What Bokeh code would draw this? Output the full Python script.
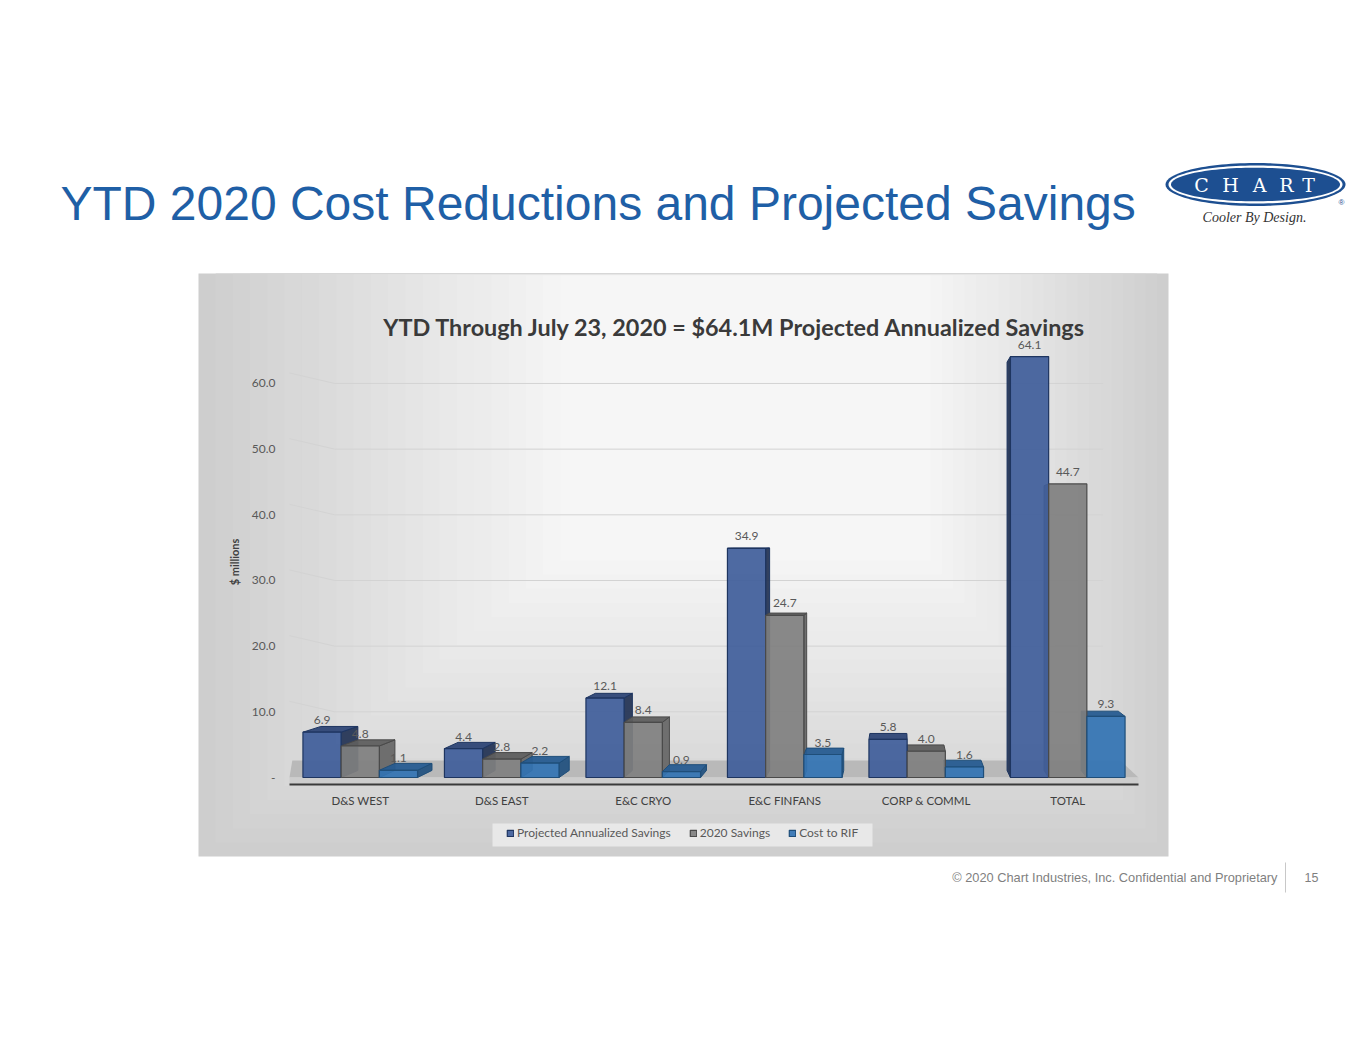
import numpy as np
from bokeh.plotting import figure
from bokeh.models import (Range1d, FixedTicker, PrintfTickFormatter, Label, LinearAxis,
                          BoxAnnotation, PolyAnnotation, Legend, LegendItem, ColumnDataSource)
from bokeh.core.properties import value
from bokeh.embed import file_html
from bokeh.resources import INLINE

# ---------------- data ----------------
categories = ["D&S WEST", "D&S EAST", "E&C CRYO", "E&C FINFANS", "CORP & COMML", "TOTAL"]
projected = [6.9, 4.4, 12.1, 34.9, 5.8, 64.1]
savings_2020 = [4.8, 2.8, 8.4, 24.7, 4.0, 44.7]
cost_to_rif = [1.1, 2.2, 0.9, 3.5, 1.6, 9.3]
series_names = ["Projected Annualized Savings", "2020 Savings", "Cost to RIF"]
y_ticks = [0, 10, 20, 30, 40, 50, 60]

slide_title = "YTD 2020 Cost Reductions and Projected Savings"
chart_title = "YTD Through July 23, 2020 = $64.1M Projected Annualized Savings"
footer_text = "\u00a9 2020 Chart Industries, Inc. Confidential and Proprietary"
page_number = "15"

# ---------------- page geometry ----------------
W, H = 1349, 1039
X0, PX = 289.0, 141.5      # page x of category axis start, px per category
Y0, PY = 777.0, 6.567      # page y of value 0, px per unit

p = figure(width=W, height=H,
           x_range=Range1d(-X0 / PX, (W - X0) / PX),
           y_range=Range1d((Y0 - H) / PY, Y0 / PY),
           x_axis_type=None, y_axis_type=None,
           output_backend="svg", toolbar_location=None,
           min_border=0, min_border_left=0, min_border_right=0,
           min_border_top=0, min_border_bottom=0)
p.title.visible = False
p.border_fill_color = "white"
p.background_fill_color = "white"
p.outline_line_color = None
p.xgrid.visible = False
p.ygrid.visible = False


def sx(x):
    return x


def sy(y):
    return H - y


def box(l, r, t, b, color, level="image"):
    p.add_layout(BoxAnnotation(left=sx(l), right=sx(r), top=sy(t), bottom=sy(b),
                               left_units="screen", right_units="screen",
                               top_units="screen", bottom_units="screen",
                               fill_color=color, fill_alpha=1.0, line_color=None, level=level))


def add_label(x, y, text, **kw):
    p.add_layout(Label(x=sx(x), y=sy(y), x_units="screen", y_units="screen", text=text, **kw))


# ---------------- chart picture background (soft gradient) ----------------
outer = (198, 1168, 273, 856)
inner = (560, 930, 275, 560)
N = 22
for k in range(N):
    t = k / (N - 1)
    l = outer[0] + t * (inner[0] - outer[0])
    r = outer[1] + t * (inner[1] - outer[1])
    tp = outer[2] + t * (inner[2] - outer[2])
    bt = outer[3] + t * (inner[3] - outer[3])
    g = int(round(0xCE + t * (0xF6 - 0xCE)))
    box(l, r, tp, bt, "#%02x%02x%02x" % (g, g, g))

# legend background strip
box(492, 872, 823, 846, "#E8E8E8")

# ---------------- back-wall grid lines ----------------
grid_xs = [[0.0, 0.32, 5.75] for v in y_ticks if v > 0]
grid_ys = [[v + 1.6, v, v] for v in y_ticks if v > 0]
p.multi_line(xs=grid_xs, ys=grid_ys, line_color="#D3D3D3", line_width=1)

# ---------------- floor ----------------
p.patch(x=[0, 6, 5.87, 0.02], y=[0, 0, 2.6, 2.6], fill_color="#B9B9B9", line_color=None)
p.patch(x=[0, 6, 6, 0], y=[-1.07, -1.07, 0, 0], fill_color="#CDCDCD", line_color=None)

# ---------------- axes ----------------
xaxis = LinearAxis(fixed_location=-1.07, bounds=(0, 6),
                   ticker=FixedTicker(ticks=[i + 0.5 for i in range(len(categories))]),
                   major_label_overrides={i + 0.5: c for i, c in enumerate(categories)},
                   axis_line_color="#3A3A3A", axis_line_width=2,
                   major_tick_line_color=None, minor_tick_line_color=None,
                   major_tick_in=0, major_tick_out=0, minor_tick_in=0, minor_tick_out=0,
                   major_label_standoff=9, major_label_text_font="Lato",
                   major_label_text_font_size="11.5px", major_label_text_color="#404040")
p.add_layout(xaxis, "below")

yaxis = LinearAxis(fixed_location=0, bounds=(0, 65.6),
                   ticker=FixedTicker(ticks=y_ticks),
                   formatter=PrintfTickFormatter(format="%.1f"),
                   major_label_overrides={0: "-"},
                   axis_line_color=None, major_tick_line_color=None, minor_tick_line_color=None,
                   major_tick_in=0, major_tick_out=0, minor_tick_in=0, minor_tick_out=0,
                   major_label_standoff=14, major_label_text_font="Lato",
                   major_label_text_font_size="12px", major_label_text_color="#595959",
                   axis_label="$ millions", axis_label_text_font="Lato",
                   axis_label_text_font_style="bold", axis_label_text_font_size="11px",
                   axis_label_text_color="#404040", axis_label_standoff=8)
p.add_layout(yaxis, "left")

# ---------------- 3-D bars ----------------
BW = 0.27
offsets = [-BW, 0.0, BW]
values = [projected, savings_2020, cost_to_rif]
front_col = ["#3F5D9A", "#7F7F7F", "#3273B3"]
top_col = ["#2E4676", "#5E5E5E", "#275C91"]
side_col = ["#263656", "#686868", "#24527F"]
edge_col = ["#1E3560", "#4A4A4A", "#1F4E79"]

VX, VY, FDEPTH = 4.3, 36.0, 0.03


def back(x, y):
    return x + FDEPTH * (VX - x), y + FDEPTH * (VY - y)


faces = []
for s, vals in enumerate(values):
    for i, h in enumerate(vals):
        xc = i + 0.5 + offsets[s]
        x0, x1 = xc - BW / 2, xc + BW / 2
        key = -abs(xc - VX)
        if x1 < VX:
            a, b = back(x1, h), back(x1, 0)
            faces.append((key, [x1, x1, a[0], b[0]], [0, h, a[1], b[1]], side_col[s], edge_col[s]))
        elif x0 > VX:
            a, b = back(x0, h), back(x0, 0)
            faces.append((key, [x0, x0, a[0], b[0]], [0, h, a[1], b[1]], side_col[s], edge_col[s]))
        if h < VY:
            a, b = back(x1, h), back(x0, h)
            faces.append((key, [x0, x1, a[0], b[0]], [h, h, a[1], b[1]], top_col[s], edge_col[s]))

faces.sort(key=lambda f: f[0])
face_src = ColumnDataSource(dict(xs=[f[1] for f in faces], ys=[f[2] for f in faces],
                                 fill=[f[3] for f in faces], line=[f[4] for f in faces]))
p.patches(xs="xs", ys="ys", source=face_src, fill_color="fill", line_color="line",
          line_width=1, fill_alpha=0.95)

idx = list(range(len(categories)))
bar_renderers = []
for s, vals in enumerate(values):
    src = ColumnDataSource(dict(x=[i + 0.5 + offsets[s] for i in idx], top=vals))
    r = p.vbar(x="x", top="top", bottom=0, width=BW, source=src,
               fill_color=front_col[s], fill_alpha=0.92,
               line_color=edge_col[s], line_width=1.2)
    bar_renderers.append(r)

# value labels
lx, ly, lt = [], [], []
for s, vals in enumerate(values):
    for i, h in enumerate(vals):
        lx.append(i + 0.5 + offsets[s])
        ly.append(h)
        lt.append("%.1f" % h)
lab_src = ColumnDataSource(dict(x=lx, y=ly, t=lt))
p.text(x="x", y="y", text="t", source=lab_src, text_align="center", text_baseline="bottom",
       y_offset=-8, text_font_size="12px", text_color="#595959", text_font=value("Lato"))

# ---------------- legend ----------------
legend = Legend(items=[LegendItem(label=series_names[s], renderers=[bar_renderers[s]]) for s in range(3)],
                orientation="horizontal", location=(sx(512 - 6), sy(840)),
                background_fill_alpha=0, border_line_color=None,
                glyph_width=8, glyph_height=8, label_height=12, label_width=10,
                label_standoff=3, spacing=18, padding=6, margin=0,
                label_text_font="Lato", label_text_font_size="12px", label_text_color="#595959")
p.add_layout(legend)

# ---------------- texts ----------------
add_label(734.5, 326, chart_title, text_font="Lato", text_font_style="bold",
          text_font_size="23.4px", text_color="#3A3A3A", text_align="center", text_baseline="middle")

add_label(60, 203, slide_title, text_font="Liberation Sans", text_font_size="48px",
          text_color="#1F5FA6", text_align="left", text_baseline="middle")

add_label(1277, 877, footer_text, text_font="Liberation Sans", text_font_size="12.8px",
          text_color="#7F7F7F", text_align="right", text_baseline="middle")
add_label(1311, 877, page_number, text_font="Liberation Sans", text_font_size="12.5px",
          text_color="#7F7F7F", text_align="center", text_baseline="middle")
box(1284.5, 1285.5, 862, 892, "#C8C8C8", level="annotation")

# ---------------- logo ----------------
LCX, LCY = 1255, 184
th = np.linspace(0, 2 * np.pi, 120)
for rx, ry, col in [(90, 21.5, "#1D4F91"), (87, 19, "#FFFFFF"), (84.5, 16.8, "#1D4F91")]:
    p.add_layout(PolyAnnotation(xs=[sx(LCX + rx * np.cos(a)) for a in th],
                                ys=[sy(LCY + ry * np.sin(a)) for a in th],
                                xs_units="screen", ys_units="screen",
                                fill_color=col, fill_alpha=1.0, line_color=None))
for ch, cx in zip("CHART", [1201, 1230, 1259, 1286, 1308]):
    add_label(cx, 184, ch, text_font="DejaVu Serif", text_font_size="19px",
              text_color="white", text_align="center", text_baseline="middle")
add_label(1341, 202, "\u00ae", text_font="Liberation Sans", text_font_size="8px",
          text_color="#1D4F91", text_align="center", text_baseline="middle")
add_label(1254, 217, "Cooler By Design.", text_font="Liberation Serif", text_font_style="italic",
          text_font_size="14px", text_color="#333333", text_align="center", text_baseline="middle")

open("out.html", "w").write(file_html(p, INLINE))
